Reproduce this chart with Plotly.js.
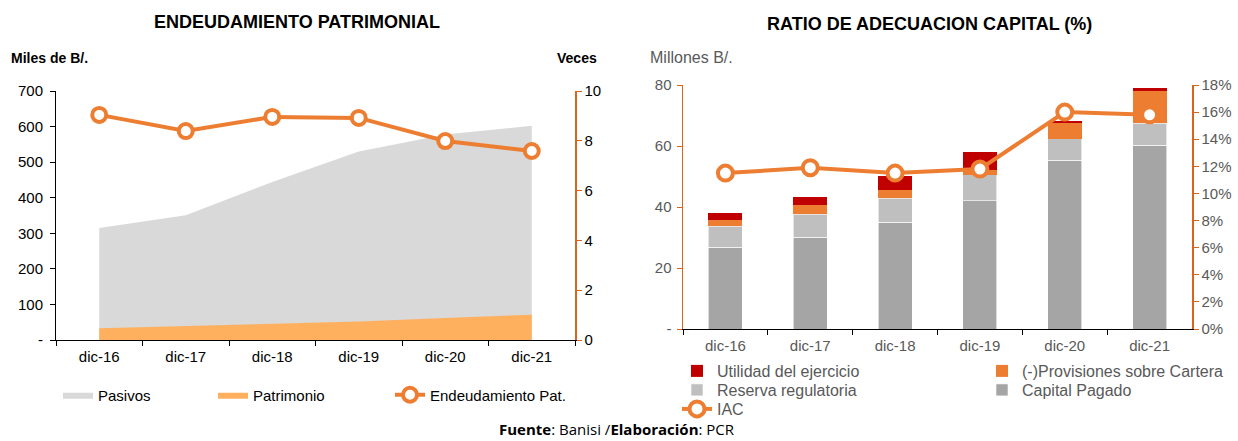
<!DOCTYPE html>
<html>
<head>
<meta charset="utf-8">
<script src="https://cdn.plot.ly/plotly-3.0.1.min.js"></script>
<style>html,body{margin:0;padding:0;background:#fff;}#chart{width:1238px;height:441px;}</style>
</head>
<body>
<div id="chart"></div>
<script>
// ---- Data ----
const categorias = ['dic-16', 'dic-17', 'dic-18', 'dic-19', 'dic-20', 'dic-21'];
// Endeudamiento patrimonial (Miles de B/.)
const pasivos = [315, 351, 444, 530, 578, 602];
const patrimonio = [33, 39, 45, 52, 62, 71];
const endeudamiento = [9.04, 8.39, 8.96, 8.92, 7.99, 7.59]; // veces
// Ratio de adecuación de capital (Millones B/.)
const capitalPagado = [26.8, 30.1, 35.0, 42.1, 55.3, 60.2];
const reservaRegulatoria = [6.9, 7.6, 7.9, 8.4, 7.1, 7.2];
const provisiones = [2.0, 3.0, 2.8, 1.5, 5.3, 10.6];
const utilidad = [2.4, 2.6, 4.5, 6.0, 0.4, 1.1];
const iac = [11.5, 11.9, 11.5, 11.8, 16.0, 15.8]; // %
const leftTicks = [0, 100, 200, 300, 400, 500, 600, 700];
const leftTickText = ['-', '100', '200', '300', '400', '500', '600', '700'];
const rightTicks = [0, 20, 40, 60, 80];
const rightTickText = ['-', '20', '40', '60', '80'];

const W = 1238, H = 441;
const px = v => v / W;
const py = v => (H - v) / H;
const FONT = 'Liberation Sans, Arial, sans-serif';
const ORANGE = '#ED7D31';
const AXOR = '#D9651C';
const GREYTXT = '#595959';

const traces = [
  {x: categorias, y: pasivos, name: 'Pasivos', type: 'scatter', mode: 'lines', fill: 'tozeroy',
   fillcolor: '#D9D9D9', line: {width: 0, color: '#D9D9D9'}, xaxis: 'x', yaxis: 'y', legend: 'legend'},
  {x: categorias, y: patrimonio, name: 'Patrimonio', type: 'scatter', mode: 'lines', fill: 'tozeroy',
   fillcolor: '#FFB05F', line: {width: 0, color: '#FFB05F'}, xaxis: 'x', yaxis: 'y', legend: 'legend2'},
  {x: categorias, y: endeudamiento, name: 'Endeudamiento Pat.', type: 'scatter', mode: 'lines+markers',
   line: {width: 4, color: ORANGE}, marker: {size: 14, color: '#fff', line: {width: 4, color: ORANGE}},
   xaxis: 'x', yaxis: 'y2', legend: 'legend3'},

  {x: categorias, y: capitalPagado, name: 'Capital Pagado', type: 'bar', marker: {color: '#A5A5A5', line: {width: 0.6, color: '#fff'}},
   xaxis: 'x2', yaxis: 'y3', legend: 'legend7'},
  {x: categorias, y: reservaRegulatoria, name: 'Reserva regulatoria', type: 'bar', marker: {color: '#BFBFBF', line: {width: 0.6, color: '#fff'}},
   xaxis: 'x2', yaxis: 'y3', legend: 'legend6'},
  {x: categorias, y: provisiones, name: '(-)Provisiones sobre Cartera', type: 'bar', marker: {color: ORANGE, line: {width: 0}},
   xaxis: 'x2', yaxis: 'y3', legend: 'legend5'},
  {x: categorias, y: utilidad, name: 'Utilidad del ejercicio', type: 'bar', marker: {color: '#C00000', line: {width: 0}},
   xaxis: 'x2', yaxis: 'y3', legend: 'legend4'},
  {x: categorias, y: iac, name: 'IAC', type: 'scatter', mode: 'lines+markers',
   line: {width: 4, color: ORANGE}, marker: {size: 15, color: '#fff', line: {width: 4, color: ORANGE}},
   xaxis: 'x2', yaxis: 'y4', legend: 'legend8'}
];

const baseAxis = {showgrid: false, zeroline: false, showline: true, ticks: 'outside', ticklen: 5, tickwidth: 1,
  fixedrange: true};

function leg(x, y, size, color) {
  return {orientation: 'h', x: px(x), y: py(y), xanchor: 'left', yanchor: 'middle', bgcolor: 'rgba(0,0,0,0)',
    font: {size: size, color: color}};
}

const layout = {
  width: W, height: H,
  margin: {l: 0, r: 0, t: 0, b: 0},
  paper_bgcolor: '#fff', plot_bgcolor: 'rgba(0,0,0,0)',
  font: {family: FONT, size: 15, color: '#000'},
  barmode: 'stack', bargap: 0.6,
  showlegend: true,
  xaxis: Object.assign({}, baseAxis, {domain: [px(56), px(575)], anchor: 'y', type: 'category', range: [-0.5, 5.5],
    tickson: 'boundaries', linecolor: '#000', tickcolor: '#000', ticklabelstandoff: 3, tickfont: {size: 15, color: '#000'}}),
  yaxis: Object.assign({}, baseAxis, {domain: [py(340), py(91)], anchor: 'x', range: [0, 700],
    tickvals: leftTicks, ticktext: leftTickText, linecolor: '#000', tickcolor: '#000', ticklabelstandoff: 4,
    tickfont: {size: 15, color: '#000'}}),
  yaxis2: Object.assign({}, baseAxis, {domain: [py(340), py(91)], anchor: 'x', overlaying: 'y', side: 'right', range: [0, 10],
    dtick: 2, linecolor: AXOR, tickcolor: AXOR, linewidth: 1.5, tickfont: {size: 15, color: '#000'}}),
  xaxis2: Object.assign({}, baseAxis, {domain: [px(683), px(1192)], anchor: 'y3', type: 'category', range: [-0.5, 5.5],
    tickson: 'boundaries', linecolor: '#000', tickcolor: '#000', ticklabelstandoff: 3, tickfont: {size: 15, color: GREYTXT}}),
  yaxis3: Object.assign({}, baseAxis, {domain: [py(329), py(85)], anchor: 'x2', range: [0, 80],
    tickvals: rightTicks, ticktext: rightTickText, linecolor: AXOR, tickcolor: AXOR, linewidth: 1.5, ticklabelstandoff: 2,
    tickfont: {size: 15, color: GREYTXT}}),
  yaxis4: Object.assign({}, baseAxis, {domain: [py(329), py(85)], anchor: 'x2', overlaying: 'y3', side: 'right', range: [0, 18],
    dtick: 2, ticksuffix: '%', linecolor: AXOR, tickcolor: AXOR, linewidth: 1.5, tickfont: {size: 15, color: GREYTXT}}),
  legend: leg(58, 395, 15, '#000'),
  legend2: leg(213, 395, 15, '#000'),
  legend3: leg(390, 395, 15, '#000'),
  legend4: leg(677, 371, 16, GREYTXT),
  legend5: leg(982, 371, 16, GREYTXT),
  legend6: leg(677, 390, 16, GREYTXT),
  legend7: leg(982, 390, 16, GREYTXT),
  legend8: leg(677, 409, 16, GREYTXT),
  annotations: [
    {text: '<b>ENDEUDAMIENTO PATRIMONIAL</b>', xref: 'paper', yref: 'paper', x: px(297), y: py(22), xanchor: 'center', yanchor: 'middle',
     showarrow: false, font: {size: 18, color: '#000'}},
    {text: '<b>RATIO DE ADECUACION CAPITAL (%)</b>', xref: 'paper', yref: 'paper', x: px(929), y: py(24), xanchor: 'center', yanchor: 'middle',
     showarrow: false, font: {size: 18, color: '#000'}},
    {text: '<b>Miles de B/.</b>', xref: 'paper', yref: 'paper', x: px(9), y: py(58), xanchor: 'left', yanchor: 'middle', showarrow: false,
     font: {size: 14, color: '#000'}},
    {text: '<b>Veces</b>', xref: 'paper', yref: 'paper', x: px(599), y: py(58), xanchor: 'right', yanchor: 'middle', showarrow: false,
     font: {size: 14, color: '#000'}},
    {text: 'Millones B/.', xref: 'paper', yref: 'paper', x: px(648), y: py(58), xanchor: 'left', yanchor: 'middle', showarrow: false,
     font: {size: 16, color: GREYTXT}},
    {text: '<b>Fuente</b>: Banisi /<b>Elaboración</b>: PCR', xref: 'paper', yref: 'paper', x: px(617), y: py(429),
     xanchor: 'center', yanchor: 'middle', showarrow: false, font: {size: 15, color: '#000', family: 'Open Sans, sans-serif'}}
  ]
};

Plotly.newPlot('chart', traces, layout, {displayModeBar: false, staticPlot: true});
</script>
</body>
</html>
